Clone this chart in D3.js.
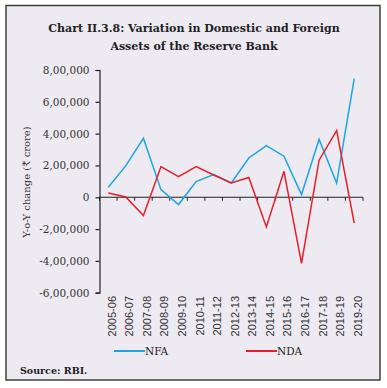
<!DOCTYPE html>
<html>
<head>
<meta charset="utf-8">
<script src="https://cdn.jsdelivr.net/npm/d3@7"></script>
<style>
  body { margin: 0; background: #fff; }
  svg { display: block; }
</style>
</head>
<body>
<svg class="chart"></svg>
<script>
// Years on the x axis.
var years = ["2005-06", "2006-07", "2007-08", "2008-09", "2009-10", "2010-11", "2011-12",
             "2012-13", "2013-14", "2014-15", "2015-16", "2016-17", "2017-18", "2018-19", "2019-20"];

// Year-on-year change, in crore.
var nfa = [63000, 199000, 371000, 48000, -46000, 98000, 142000, 90000, 247000, 325000,
           258000, 17000, 365000, 88000, 746000];
var nda = [27000, 2000, -115000, 193000, 130000, 193000, 140000, 90000, 124000, -187000,
           163000, -415000, 233000, 419000, -163000];

var yTicks = [-600000, -400000, -200000, 0, 200000, 400000, 600000, 800000];

var series = [
    {name: "NFA", values: nfa, color: "#1ba6df"},
    {name: "NDA", values: nda, color: "#e5202b"}
];

var width = 387, height = 388;
var serif = "'DejaVu Serif', serif";

// Indian digit grouping: 8,00,000
function indian(v) {
    var s = String(Math.abs(v));
    if (s.length > 3) {
        var last = s.slice(-3), rest = s.slice(0, -3);
        rest = rest.replace(/\B(?=(\d{2})+(?!\d))/g, ",");
        s = rest + "," + last;
    }
    return (v < 0 ? "-" : "") + s;
}

var svg = d3.select(".chart")
    .attr("width", width)
    .attr("height", height);

svg.append("rect")
    .attr("x", 6).attr("y", 5.5)
    .attr("width", 374).attr("height", 374.5)
    .attr("fill", "#edeaf1")
    .attr("stroke", "#333")
    .attr("stroke-width", 1.4);

// Title
svg.append("text")
    .attr("x", 194).attr("y", 32)
    .attr("text-anchor", "middle")
    .style("font", "bold 11px " + serif)
    .attr("fill", "#222")
    .text("Chart II.3.8: Variation in Domestic and Foreign");
svg.append("text")
    .attr("x", 194).attr("y", 50)
    .attr("text-anchor", "middle")
    .style("font", "bold 11px " + serif)
    .attr("fill", "#222")
    .text("Assets of the Reserve Bank");

var x = d3.scaleBand().domain(years).range([99.5, 363]).padding(0);
var y = d3.scaleLinear().domain([-600000, 800000]).range([292.7, 70]);

// Y axis
var yAxis = svg.append("g")
    .attr("transform", "translate(99.5,0)")
    .call(d3.axisLeft(y).tickValues(yTicks).tickFormat(indian).tickSize(4).tickPadding(6));
yAxis.select(".domain").attr("stroke", "#222").attr("stroke-width", 1.2);
yAxis.selectAll(".tick line").attr("stroke", "#222").attr("stroke-width", 1.2);
yAxis.selectAll(".tick text")
    .style("font", "10.5px " + serif)
    .attr("fill", "#333");

// X axis on the zero line, ticks at band edges
var xAxis = svg.append("g")
    .attr("transform", "translate(0," + y(0) + ")");
xAxis.append("line")
    .attr("x1", x.range()[0]).attr("x2", x.range()[1])
    .attr("stroke", "#222").attr("stroke-width", 1.2);
xAxis.selectAll(".edge")
    .data(years.concat(["end"]))
    .join("line")
    .attr("class", "edge")
    .attr("x1", function(d, i) { return x.range()[0] + i * x.bandwidth(); })
    .attr("x2", function(d, i) { return x.range()[0] + i * x.bandwidth(); })
    .attr("y1", 0).attr("y2", 3.5)
    .attr("stroke", "#222").attr("stroke-width", 1);

// Rotated year labels below the plot
svg.append("g").selectAll("text")
    .data(years)
    .join("text")
    .attr("transform", function(d) {
        return "translate(" + (x(d) + x.bandwidth() / 2 + 7.5) + ",296) rotate(-90)";
    })
    .attr("text-anchor", "end")
    .style("font", "11px 'Liberation Sans', Arial, sans-serif")
    .attr("fill", "#333")
    .text(function(d) { return d; });

// Y axis title
svg.append("text")
    .attr("transform", "translate(30,182) rotate(-90)")
    .attr("text-anchor", "middle")
    .style("font", "10px " + serif)
    .attr("fill", "#333")
    .text("Y-o-Y change (₹ crore)");

// Lines
var line = d3.line()
    .x(function(d, i) { return x(years[i]) + x.bandwidth() / 2; })
    .y(function(d) { return y(d); });

svg.append("g").selectAll("path")
    .data(series)
    .join("path")
    .attr("d", function(s) { return line(s.values); })
    .attr("fill", "none")
    .attr("stroke", function(s) { return s.color; })
    .attr("stroke-width", 1.5);

// Legend
var legend = svg.append("g").selectAll("g")
    .data(series)
    .join("g")
    .attr("transform", function(d, i) { return "translate(" + (114 + i * 132) + ",351)"; });
legend.append("line")
    .attr("x1", 0).attr("x2", 31)
    .attr("stroke", function(d) { return d.color; })
    .attr("stroke-width", 2);
legend.append("text")
    .attr("x", 31).attr("y", 3.5)
    .style("font", "10.5px " + serif)
    .attr("fill", "#222")
    .text(function(d) { return d.name; });

// Source
svg.append("text")
    .attr("x", 20).attr("y", 374)
    .style("font", "bold 9.5px " + serif)
    .attr("fill", "#222")
    .text("Source: RBI.");
</script>
</body>
</html>
